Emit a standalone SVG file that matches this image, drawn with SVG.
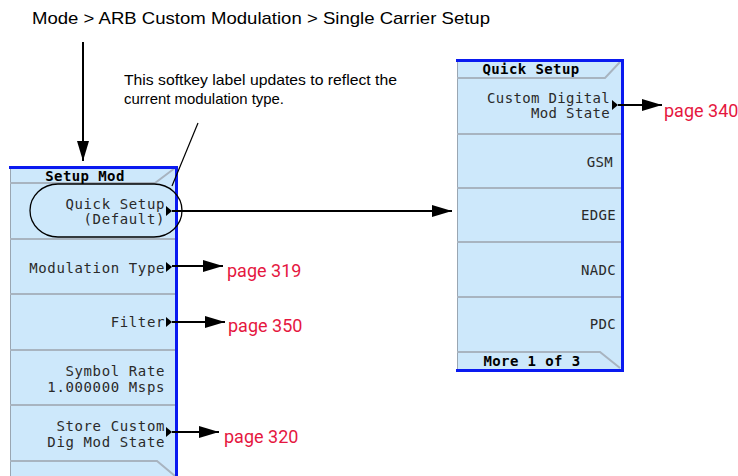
<svg xmlns="http://www.w3.org/2000/svg" width="738" height="476" viewBox="0 0 738 476">
<defs>
<style>
.cap{font-family:"Liberation Sans",Arial,sans-serif;fill:#000}
.key{font-family:"DejaVu Sans Mono",monospace;font-size:14px;letter-spacing:0.62px;fill:#2a2a2a;text-anchor:end}
.keyr{font-family:"DejaVu Sans Mono",monospace;font-size:14px;letter-spacing:0.35px;fill:#2a2a2a;text-anchor:end}
.ttl{font-family:"DejaVu Sans Mono",monospace;font-size:14px;font-weight:bold;fill:#000;text-anchor:middle;letter-spacing:0.4px}
.pg{font-family:Roboto,"Liberation Sans",sans-serif;font-size:18px;fill:#e5173f}
.panel{fill:#cde8fb}
.sep{stroke:#a8b4c0;stroke-width:2;fill:none}
.blue{stroke:#0a1af0;stroke-width:3;fill:none}
.edge{stroke:#9aa6b2;stroke-width:1;fill:none}
.conn{stroke:#000;stroke-width:2;fill:none}
.tri{fill:#000}
</style>
<marker id="ah" viewBox="0 0 20 12" refX="20" refY="6" markerWidth="20" markerHeight="12" markerUnits="userSpaceOnUse" orient="auto">
<path d="M0,0 L20,6 L0,12 Z" fill="#000"/>
</marker>
</defs>
<rect width="738" height="476" fill="#fff"/>

<text class="cap" x="32" y="24" font-size="17" textLength="458" lengthAdjust="spacingAndGlyphs">Mode &gt; ARB Custom Modulation &gt; Single Carrier Setup</text>
<text class="cap" x="124" y="85" font-size="15" textLength="273" lengthAdjust="spacingAndGlyphs">This softkey label updates to reflect the</text>
<text class="cap" x="124" y="104" font-size="15" textLength="160" lengthAdjust="spacingAndGlyphs">current modulation type.</text>

<g id="setup-mod">
<rect class="panel" x="10" y="167" width="167" height="312"/>
<line class="edge" x1="10.5" y1="167" x2="10.5" y2="476"/>
<path class="sep" d="M10,183 L155,183 L175,168"/>
<line class="sep" x1="10" y1="239" x2="176" y2="239"/>
<line class="sep" x1="10" y1="294" x2="176" y2="294"/>
<line class="sep" x1="10" y1="350" x2="176" y2="350"/>
<line class="sep" x1="10" y1="405" x2="176" y2="405"/>
<path class="sep" d="M10,461 L157,461 L175,476"/>
<path class="blue" d="M9,167.5 L176.5,167.5 L176.5,476"/>
<text class="ttl" x="85" y="181">Setup Mod</text>
<text class="key" x="165" y="209">Quick Setup</text>
<text class="key" x="165" y="224">(Default)</text>
<path class="tri" d="M166,206 L172,211 L166,216 Z"/>
<text class="key" x="165" y="273">Modulation Type</text>
<path class="tri" d="M166,262 L172,267 L166,272 Z"/>
<text class="key" x="165" y="327">Filter</text>
<path class="tri" d="M166,317 L172,322 L166,327 Z"/>
<text class="key" x="165" y="376">Symbol Rate</text>
<text class="key" x="165" y="392">1.000000 Msps</text>
<text class="key" x="165" y="431">Store Custom</text>
<text class="key" x="165" y="447">Dig Mod State</text>
<path class="tri" d="M166,427 L172,432 L166,437 Z"/>
<rect x="30" y="184" width="152" height="53" rx="28" ry="26.5" fill="none" stroke="#000" stroke-width="1.3"/>
</g>

<g id="quick-setup">
<rect class="panel" x="457" y="60" width="165" height="310"/>
<line class="edge" x1="457.5" y1="60" x2="457.5" y2="370"/>
<path class="sep" d="M457,78 L605,78 L620,62"/>
<line class="sep" x1="457" y1="134" x2="621" y2="134"/>
<line class="sep" x1="457" y1="188" x2="621" y2="188"/>
<line class="sep" x1="457" y1="242" x2="621" y2="242"/>
<line class="sep" x1="457" y1="297" x2="621" y2="297"/>
<path class="sep" d="M457,352 L600,352 L620,368"/>
<path class="blue" d="M456,60.5 L622.5,60.5 L622.5,370.5 L456,370.5"/>
<text class="ttl" x="531" y="74">Quick Setup</text>
<text class="keyr" x="610" y="103">Custom Digital</text>
<text class="keyr" x="610" y="118">Mod State</text>
<path class="tri" d="M612,100 L618,105 L612,110 Z"/>
<text class="keyr" x="613" y="167">GSM</text>
<text class="keyr" x="616" y="220">EDGE</text>
<text class="keyr" x="616" y="275">NADC</text>
<text class="keyr" x="616" y="329">PDC</text>
<text class="ttl" x="532" y="366">More 1 of 3</text>
</g>

<g id="connectors">
<line class="conn" x1="83" y1="42" x2="83" y2="161" marker-end="url(#ah)"/>
<line x1="198" y1="123" x2="172" y2="186" stroke="#000" stroke-width="1.2"/>
<line class="conn" x1="172" y1="211" x2="452" y2="211" marker-end="url(#ah)"/>
<line class="conn" x1="172" y1="266" x2="223" y2="266" marker-end="url(#ah)"/>
<line class="conn" x1="172" y1="322" x2="225" y2="322" marker-end="url(#ah)"/>
<line class="conn" x1="172" y1="432" x2="219" y2="432" marker-end="url(#ah)"/>
<line class="conn" x1="618" y1="105" x2="662" y2="105" marker-end="url(#ah)"/>
</g>

<g id="page-refs">
<text class="pg" x="227" y="277">page 319</text>
<text class="pg" x="228" y="332">page 350</text>
<text class="pg" x="224" y="443">page 320</text>
<text class="pg" x="664" y="117">page 340</text>
</g>
</svg>
